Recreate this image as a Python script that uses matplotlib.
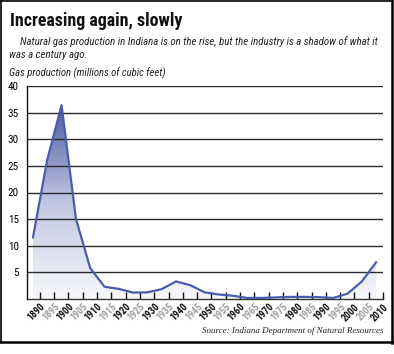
import matplotlib
matplotlib.use("Agg")
import matplotlib.pyplot as plt
import numpy as np
from matplotlib import font_manager
from matplotlib.colors import LinearSegmentedColormap
from matplotlib.lines import Line2D

# ---- data ----
years = [1890, 1895, 1900, 1905, 1910, 1915, 1920, 1925, 1930, 1935, 1940, 1945,
         1950, 1955, 1960, 1965, 1970, 1975, 1980, 1985, 1990, 1995, 2000, 2005, 2010]
production = [11.6, 26.2, 36.4, 15.1, 5.8, 2.3, 1.9, 1.2, 1.25, 1.85, 3.3, 2.6,
              1.25, 0.85, 0.6, 0.2, 0.2, 0.3, 0.4, 0.4, 0.35, 0.2, 1.0, 3.3, 6.9]
year_labels = [str(y) for y in years]
y_ticks = [5, 10, 15, 20, 25, 30, 35, 40]

title = "Increasing again, slowly"
subtitle1 = "Natural gas production in Indiana is on the rise, but the industry is a shadow of what it"
subtitle2 = "was a century ago."
ylabel = "Gas production (millions of cubic feet)"
source = "Source: Indiana Department of Natural Resources"

tt = font_manager.fontManager.ttflist
names = {f.name for f in tt}
has_dv_cond = any(f.name == "DejaVu Sans" and f.stretch in ("condensed", 400 - 100) or
                  "Condensed" in f.fname and "DejaVuSans" in f.fname for f in tt)
if "Roboto Condensed" in names:
    cond = dict(family="Roboto Condensed")
elif "Liberation Sans Narrow" in names:
    cond = dict(family="Liberation Sans Narrow")
elif has_dv_cond:
    cond = dict(family="DejaVu Sans", fontstretch="condensed")
elif "Roboto" in names:
    cond = dict(family="Roboto")
else:
    cond = dict(family="DejaVu Sans")
serif = "Liberation Serif" if "Liberation Serif" in names else "DejaVu Serif"

W, H = 394, 354
fig = plt.figure(figsize=(W / 100, H / 100), dpi=100)
fig.patch.set_facecolor("white")

def fx(px):
    return px / W

def fy(py):
    return 1 - py / H

ax = fig.add_axes([fx(27), fy(299), fx(383) - fx(27), fy(86) - fy(299)])
x = np.arange(len(years))
y = np.array(production)

cmap = LinearSegmentedColormap.from_list("g", ["#f7f8fc", "#c0c6e2", "#4a5aa2"])
ymax = max(production)
grad = np.linspace(0, 1, 256).reshape(-1, 1)
poly = ax.fill_between(x, y, 0, facecolor="none", edgecolor="none")
im = ax.imshow(grad, extent=[x[0], x[-1], 0, ymax], aspect="auto", cmap=cmap,
               origin="lower", zorder=1, interpolation="bilinear")
im.set_clip_path(poly.get_paths()[0], transform=ax.transData)
ax.plot(x, y, color="#4a5cab", lw=1.6, zorder=3, solid_joinstyle="round")

ax.set_xlim(-0.42, 24.45)
ax.set_ylim(0, 40)
for v in y_ticks:
    ax.axhline(v, color="#2a2a2a", lw=1.0, zorder=2)

for s in ["top", "right"]:
    ax.spines[s].set_visible(False)
ax.spines["left"].set_color("#111111")
ax.spines["left"].set_linewidth(1.0)
ax.spines["bottom"].set_color("#333333")
ax.spines["bottom"].set_linewidth(1.0)

ax.set_yticks(y_ticks)
ax.set_yticklabels([str(v) for v in y_ticks], fontsize=8, **cond)
ax.tick_params(axis="y", length=0, pad=6)

ax.set_xticks(x + 0.48)
ax.set_xticklabels(year_labels, rotation=45, ha="right", va="top",
                   rotation_mode="anchor", fontsize=7, fontweight="bold", **cond)
for i, lab in enumerate(ax.get_xticklabels()):
    lab.set_color("#111111" if i % 2 == 0 else "#a0a0a0")
ax.tick_params(axis="x", direction="in", length=5, width=1, color="#111111", pad=2)

# ---- texts ----
renderer = fig.canvas.get_renderer()

def fit_text(px, py, s, target_w, size, maxsize=None, **kw):
    t = fig.text(fx(px), fy(py), s, fontsize=size, **kw)
    w = t.get_window_extent(renderer).width
    ns = size * target_w / w
    if maxsize is not None:
        ns = min(ns, maxsize)
    t.set_fontsize(ns)
    return t

fit_text(10, 26, title, 174, 14, maxsize=13.5, fontweight="bold", color="#111111",
         va="baseline", **cond)
s1 = fit_text(20, 42, subtitle1, 360, 8, maxsize=8.2, style="italic", color="#222222",
              va="center", **cond)
fig.text(fx(9), fy(55), subtitle2, style="italic", color="#222222", va="center",
         fontsize=s1.get_fontsize(), **cond)
fit_text(9, 73, ylabel, 157, 8, maxsize=8.2, style="italic", color="#222222",
         va="center", **cond)
fit_text(384, 331, source, 182, 7, maxsize=8, family=serif, style="italic",
         color="#222222", va="center", ha="right")

# ---- frame ----
fig.add_artist(Line2D([fx(0.75), fx(0.75)], [fy(0), fy(342)], color="black", lw=1.2))
fig.add_artist(Line2D([fx(0), fx(392)], [fy(0.75), fy(0.75)], color="black", lw=1.2))
fig.add_artist(Line2D([fx(391.5), fx(391.5)], [fy(0), fy(343)], color="black", lw=1.8))
fig.add_artist(Line2D([fx(0), fx(393)], [fy(341.5), fy(341.5)], color="black", lw=1.8))

fig.savefig("out.png", dpi=100, facecolor="white")
